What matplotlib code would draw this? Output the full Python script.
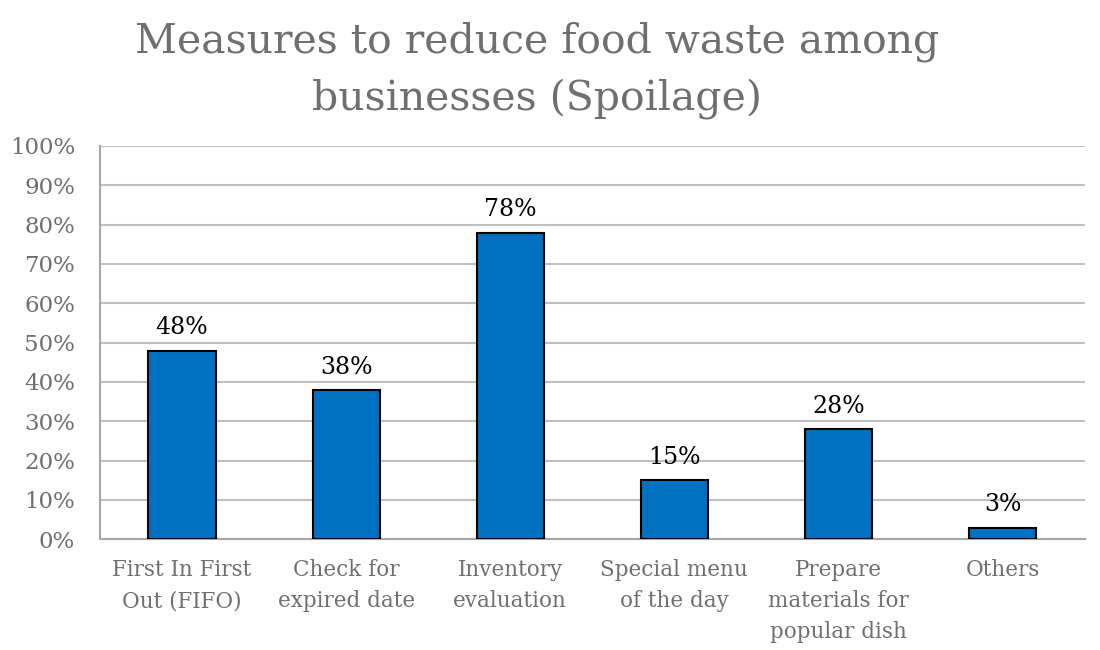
import matplotlib
matplotlib.use("Agg")
import matplotlib.pyplot as plt
import numpy as np

# Survey results: share of businesses using each measure against spoilage
categories = [
    "First In First\nOut (FIFO)",
    "Check for\nexpired date",
    "Inventory\nevaluation",
    "Special menu\nof the day",
    "Prepare\nmaterials for\npopular dish",
    "Others",
]
shares = [48, 38, 78, 15, 28, 3]
y_ticks = [0, 10, 20, 30, 40, 50, 60, 70, 80, 90, 100]
title = "Measures to reduce food waste among\nbusinesses (Spoilage)"

FONT = "DejaVu Serif"
GREY_TEXT = "#6f6f6f"
GRID = "#bfbfbf"
BAR = "#0070c0"

fig = plt.figure(figsize=(11, 6.5), dpi=100)
ax = fig.add_axes([0.0909, 0.1703, 0.8951, 0.6051])

x = np.arange(len(categories))
ax.bar(x, shares, width=0.41, color=BAR, edgecolor="black", linewidth=1.5, zorder=3)

for xi, v in zip(x, shares):
    ax.annotate(f"{v}%", (xi, v), xytext=(0, 8), textcoords="offset points",
                ha="center", va="bottom", fontsize=17, family=FONT, color="black")

ax.set_xlim(-0.5, len(categories) - 0.5)
ax.set_ylim(0, 100)
ax.set_yticks(y_ticks)
ax.set_yticklabels([f"{t}%" for t in y_ticks], fontsize=16.5, family=FONT, color=GREY_TEXT)
ax.set_xticks(x)
ax.set_xticklabels(categories, fontsize=15.5, family=FONT, color=GREY_TEXT, linespacing=1.55)
ax.tick_params(axis="both", length=0)
ax.tick_params(axis="x", pad=14)
ax.tick_params(axis="y", pad=18)

ax.yaxis.grid(True, color=GRID, linewidth=1.5, zorder=0)
for side in ("top", "right"):
    ax.spines[side].set_visible(False)
for side in ("left", "bottom"):
    ax.spines[side].set_color("#a6a6a6")
    ax.spines[side].set_linewidth(1.5)

fig.text(0.488, 1 - 70 / 650, title, ha="center", va="center", fontsize=29.5,
         family=FONT, color=GREY_TEXT, linespacing=1.5)

fig.savefig("out.png", dpi=100, facecolor="white")
